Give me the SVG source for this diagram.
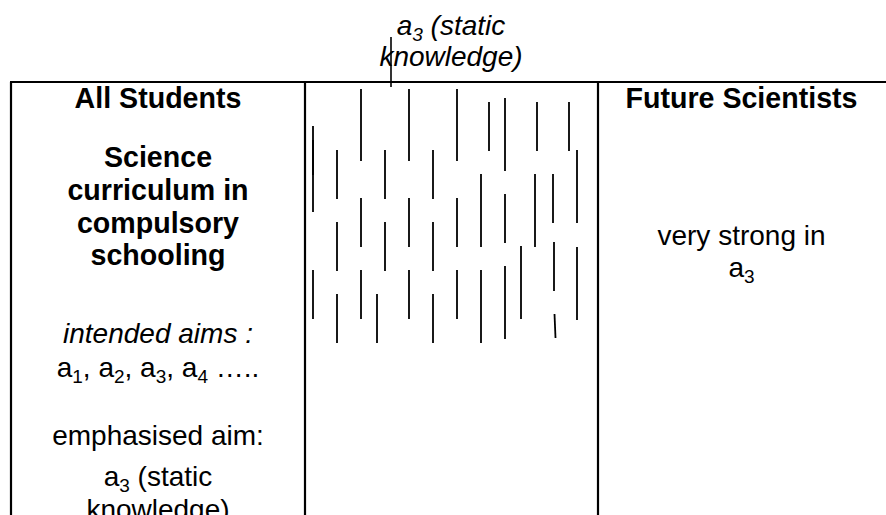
<svg xmlns="http://www.w3.org/2000/svg" width="886" height="515" viewBox="0 0 886 515">
<style>
text{font-family:"Liberation Sans",Arial,sans-serif;font-size:28px;fill:#000;text-anchor:middle}
.b{font-weight:bold;font-size:28.6px}
.i{font-style:italic}
.sub{font-size:19px}
.border{stroke:#000;stroke-width:2.2;fill:none}
.hatch line{stroke:#000;stroke-width:1.8}
</style>
<rect x="0" y="0" width="886" height="515" fill="#fff"/>
<g id="table-frame">
<line class="border" x1="10" y1="82" x2="886" y2="82"/>
<line class="border" x1="11" y1="82" x2="11" y2="515"/>
<line class="border" x1="305" y1="82" x2="305" y2="515"/>
<line class="border" x1="598" y1="82" x2="598" y2="515"/>
</g>
<g id="top-label">
<text class="i" x="451" y="35">a<tspan class="sub" dy="6">3</tspan><tspan dy="-6"> (static</tspan></text>
<text class="i" x="451" y="66">knowledge)</text>
</g>
<g id="connectors">
<line x1="391" y1="37" x2="391" y2="87" stroke="#000" stroke-width="1.6"/>
</g>
<g id="col-all-students">
<text class="b" x="158" y="108">All Students</text>
<text class="b" x="158" y="167">Science</text>
<text class="b" x="158" y="200">curriculum in</text>
<text class="b" x="158" y="233">compulsory</text>
<text class="b" x="158" y="265">schooling</text>
<text class="i" x="158" y="343">intended aims :</text>
<text x="158" y="377">a<tspan class="sub" dy="6">1</tspan><tspan dy="-6">, a</tspan><tspan class="sub" dy="6">2</tspan><tspan dy="-6">, a</tspan><tspan class="sub" dy="6">3</tspan><tspan dy="-6">, a</tspan><tspan class="sub" dy="6">4</tspan><tspan dy="-6"> …..</tspan></text>
<text x="158" y="445">emphasised aim:</text>
<text x="158" y="486">a<tspan class="sub" dy="6">3</tspan><tspan dy="-6"> (static</tspan></text>
<text x="158" y="519">knowledge)</text>
</g>
<g id="col-middle" class="hatch">
<line x1="313" y1="126" x2="313" y2="175"/><line x1="313" y1="140" x2="313" y2="212"/><line x1="313" y1="270" x2="313" y2="319"/>
<line x1="337" y1="150" x2="337" y2="199"/><line x1="337" y1="222" x2="337" y2="271"/><line x1="337" y1="294" x2="337" y2="343"/>
<line x1="361" y1="89" x2="361" y2="161"/><line x1="361" y1="198" x2="361" y2="247"/><line x1="361" y1="270" x2="361" y2="319"/>
<line x1="377" y1="294" x2="377" y2="343"/>
<line x1="385" y1="150" x2="385" y2="199"/><line x1="385" y1="222" x2="385" y2="271"/>
<line x1="409" y1="89" x2="409" y2="161"/><line x1="409" y1="198" x2="409" y2="247"/><line x1="409" y1="270" x2="409" y2="319"/>
<line x1="433" y1="150" x2="433" y2="199"/><line x1="433" y1="222" x2="433" y2="271"/><line x1="433" y1="294" x2="433" y2="343"/>
<line x1="457" y1="89" x2="457" y2="161"/><line x1="457" y1="198" x2="457" y2="247"/><line x1="457" y1="270" x2="457" y2="319"/>
<line x1="481" y1="174" x2="481" y2="247"/><line x1="481" y1="270" x2="481" y2="343"/>
<line x1="489" y1="102" x2="489" y2="151"/>
<line x1="505" y1="98" x2="505" y2="171"/><line x1="505" y1="194" x2="505" y2="243"/><line x1="505" y1="266" x2="505" y2="339"/>
<line x1="521" y1="246" x2="521" y2="319"/>
<line x1="535" y1="174" x2="535" y2="247"/>
<line x1="537" y1="102" x2="537" y2="151"/>
<line x1="553" y1="174" x2="553" y2="223"/><line x1="554" y1="242" x2="554" y2="291"/><line x1="554.5" y1="314" x2="555.5" y2="338"/>
<line x1="569" y1="102" x2="569" y2="151"/>
<line x1="577" y1="150" x2="577" y2="223"/><line x1="577" y1="247" x2="577" y2="320"/>
</g>
<g id="col-future-scientists">
<text class="b" x="741.5" y="108">Future Scientists</text>
<text x="741.5" y="245">very strong in</text>
<text x="741.5" y="277">a<tspan class="sub" dy="6">3</tspan></text>
</g>
</svg>
